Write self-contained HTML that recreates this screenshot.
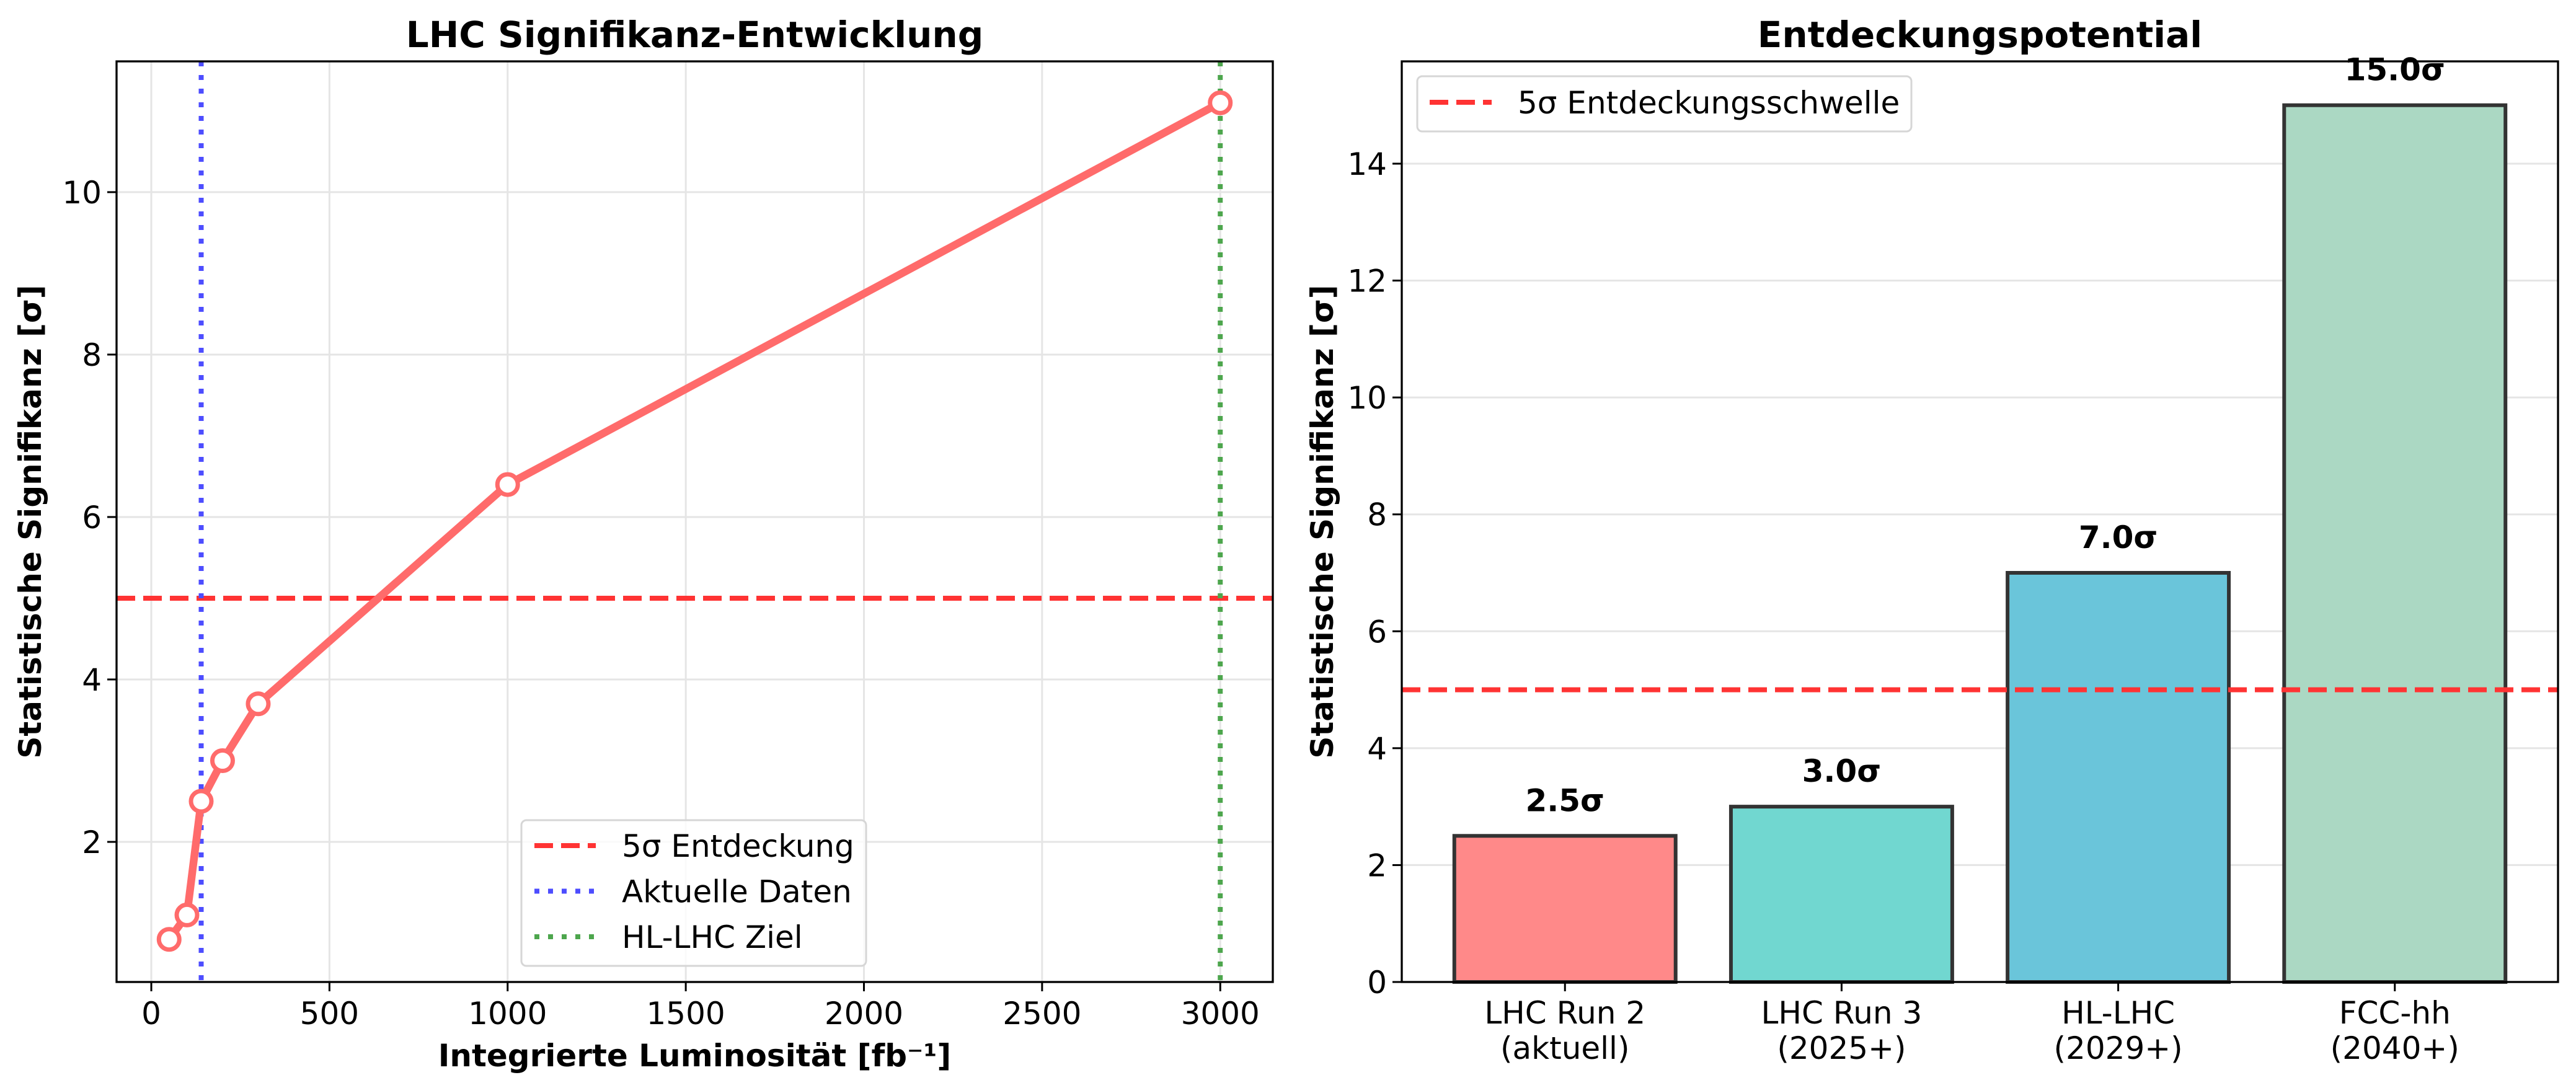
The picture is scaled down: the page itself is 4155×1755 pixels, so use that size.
<!DOCTYPE html>
<html><head><meta charset="utf-8"><style>
html,body{margin:0;padding:0;background:#fff;}
svg{display:block;font-family:"DejaVu Sans","Liberation Sans",sans-serif;}
</style></head><body>
<svg id="fig" xmlns="http://www.w3.org/2000/svg" width="4155" height="1755" viewBox="0 0 4155 1755">
<rect width="4155" height="1755" fill="#fff"/>
<g id="left"></g>
<g id="right"></g>
</svg>
<script>
const lumX = [50, 100, 140, 200, 300, 1000, 3000];
const sigY = [0.8, 1.1, 2.5, 3.0, 3.7, 6.4, 11.1];
const leftXTicks = [0, 500, 1000, 1500, 2000, 2500, 3000];
const leftYTicks = [2, 4, 6, 8, 10];
const discoveryLevel = [5];
const currentLumi = [140];
const hlTarget = [3000];
const barCats1 = ['LHC Run 2', 'LHC Run 3', 'HL-LHC', 'FCC-hh'];
const barCats2 = ['(aktuell)', '(2025+)', '(2029+)', '(2040+)'];
const barVals = [2.5, 3.0, 7.0, 15.0];
const barLabels = ['2.5σ', '3.0σ', '7.0σ', '15.0σ'];
const rightYTicks = [0, 2, 4, 6, 8, 10, 12, 14];

const NS = 'http://www.w3.org/2000/svg';
function mk(parent, tag, attrs, text) {
  const e = document.createElementNS(NS, tag);
  for (const k in attrs) e.setAttribute(k, attrs[k]);
  if (text !== undefined) e.textContent = text;
  parent.appendChild(e);
  return e;
}
const T = 99, B = 1584;
// LEFT
const L = document.getElementById('left');
const lx0 = 188, lx1 = 2053;
const lxmin = -97.5, lxmax = 3147.5, lymin = 0.275, lymax = 11.61;
const lxs = v => lx0 + (v - lxmin) / (lxmax - lxmin) * (lx1 - lx0);
const lys = v => B - (v - lymin) / (lymax - lymin) * (B - T);
leftXTicks.forEach(t => {
  const g = mk(L, 'line', {x1: lxs(t), x2: lxs(t), y1: T, y2: B, stroke: '#e5e5e5', 'stroke-width': 3});
  
  
  mk(L, 'line', {x1: lxs(t), x2: lxs(t), y1: B, y2: B + 15, stroke: '#000', 'stroke-width': 3});
  const tl = mk(L, 'text', {x: lxs(t), y: 1652, 'font-size': 50, 'text-anchor': 'middle'}, String(t));
  
  
});
leftYTicks.forEach(t => {
  const g = mk(L, 'line', {x1: lx0, x2: lx1, y1: lys(t), y2: lys(t), stroke: '#e5e5e5', 'stroke-width': 3});
  
  
  mk(L, 'line', {x1: lx0 - 15, x2: lx0, y1: lys(t), y2: lys(t), stroke: '#000', 'stroke-width': 3});
  const tl = mk(L, 'text', {x: lx0 - 24, y: lys(t) + 18, 'font-size': 50, 'text-anchor': 'end'}, String(t));
  
  
});
discoveryLevel.forEach(v => {
  const h = mk(L, 'line', {x1: lx0, x2: lx1, y1: lys(v), y2: lys(v), stroke: '#ff3333', 'stroke-width': 8, 'stroke-dasharray': '30 13'});
  
  
});
currentLumi.forEach(v => {
  const h = mk(L, 'line', {x1: lxs(v), x2: lxs(v), y1: T, y2: B, stroke: '#4d4dff', 'stroke-width': 8, 'stroke-dasharray': '8 14'});
  
  
});
hlTarget.forEach(v => {
  const h = mk(L, 'line', {x1: lxs(v), x2: lxs(v), y1: T, y2: B, stroke: '#4da64d', 'stroke-width': 8, 'stroke-dasharray': '8 14'});
  
  
});
const pts = lumX.map((x, i) => lxs(x) + ',' + lys(sigY[i])).join(' ');
const pl = mk(L, 'polyline', {points: pts, fill: 'none', stroke: '#ff6b6b', 'stroke-width': 12.5, 'stroke-linejoin': 'round'});


lumX.forEach((x, i) => {
  const c = mk(L, 'circle', {cx: lxs(x), cy: lys(sigY[i]), r: 16.5, fill: '#fff', stroke: '#ff6b6b', 'stroke-width': 7});
  
  
});
mk(L, 'rect', {x: lx0, y: T, width: lx1 - lx0, height: B - T, fill: 'none', stroke: '#000', 'stroke-width': 3.3});
let t = mk(L, 'text', {x: (lx0 + lx1) / 2, y: 76, 'font-size': 58, 'font-weight': 'bold', 'text-anchor': 'middle'}, 'LHC Signifikanz-Entwicklung');
 
t = mk(L, 'text', {x: (lx0 + lx1) / 2, y: 1720, 'font-size': 50, 'font-weight': 'bold', 'text-anchor': 'middle'}, 'Integrierte Luminosität [fb⁻¹]');
 
t = mk(L, 'text', {x: 0, y: 0, 'font-size': 50, 'font-weight': 'bold', 'text-anchor': 'middle', transform: 'translate(66,' + (T + B) / 2 + ') rotate(-90)'}, 'Statistische Signifikanz [σ]');
 
// left legend
const lg = mk(L, 'g', {});
 
mk(lg, 'rect', {x: 841, y: 1323, width: 556, height: 235, rx: 8, fill: '#fff', 'fill-opacity': 0.8, stroke: '#d6d6d6', 'stroke-width': 3});
const legItems = [['5σ Entdeckung', '#ff3333', '30 13'], ['Aktuelle Daten', '#4d4dff', '8 14'], ['HL-LHC Ziel', '#4da64d', '8 14']];
legItems.forEach((it, i) => {
  const y = 1364 + i * 73.5;
  mk(lg, 'line', {x1: 862, x2: 961, y1: y, y2: y, stroke: it[1], 'stroke-width': 8, 'stroke-dasharray': it[2]});
  const e = mk(lg, 'text', {x: 1003, y: y + 18, 'font-size': 50}, it[0]);
   
});
// RIGHT
const R = document.getElementById('right');
const rx0 = 2261, rx1 = 4126, rxmin = -0.59, rxmax = 3.59, rymax = 15.75;
const rxs = v => rx0 + (v - rxmin) / (rxmax - rxmin) * (rx1 - rx0);
const rys = v => B - v / rymax * (B - T);
const bw = 0.8 * (rx1 - rx0) / (rxmax - rxmin);
rightYTicks.forEach(tk => {
  const g = mk(R, 'line', {x1: rx0, x2: rx1, y1: rys(tk), y2: rys(tk), stroke: '#e5e5e5', 'stroke-width': 3});
   
  mk(R, 'line', {x1: rx0 - 15, x2: rx0, y1: rys(tk), y2: rys(tk), stroke: '#000', 'stroke-width': 3});
  const tl = mk(R, 'text', {x: rx0 - 24, y: rys(tk) + 18, 'font-size': 50, 'text-anchor': 'end'}, String(tk));
   
});
const fills = ['#ff8989', '#71d7d0', '#6ac5da', '#abd8c3'];
barVals.forEach((v, i) => {
  const cx = rxs(i);
  const r = mk(R, 'rect', {x: cx - bw / 2, y: rys(v), width: bw, height: B - rys(v), fill: fills[i], stroke: '#333', 'stroke-width': 6});
  
  
  const l = mk(R, 'text', {x: cx, y: rys(v) - 40, 'font-size': 50, 'font-weight': 'bold', 'text-anchor': 'middle'}, barLabels[i]);
   
  mk(R, 'line', {x1: cx, x2: cx, y1: B, y2: B + 15, stroke: '#000', 'stroke-width': 3});
  const c1 = mk(R, 'text', {x: cx, y: 1651, 'font-size': 50, 'text-anchor': 'middle'}, barCats1[i]);
   
  const c2 = mk(R, 'text', {x: cx, y: 1708, 'font-size': 50, 'text-anchor': 'middle'}, barCats2[i]);
   
});
discoveryLevel.forEach(v => {
  const h = mk(R, 'line', {x1: rx0, x2: rx1, y1: rys(v), y2: rys(v), stroke: '#ff3333', 'stroke-width': 8, 'stroke-dasharray': '30 13'});
   
});
mk(R, 'rect', {x: rx0, y: T, width: rx1 - rx0, height: B - T, fill: 'none', stroke: '#000', 'stroke-width': 3.3});
t = mk(R, 'text', {x: (rx0 + rx1) / 2, y: 76, 'font-size': 58, 'font-weight': 'bold', 'text-anchor': 'middle'}, 'Entdeckungspotential');
 
t = mk(R, 'text', {x: 0, y: 0, 'font-size': 50, 'font-weight': 'bold', 'text-anchor': 'middle', transform: 'translate(2150,' + (T + B) / 2 + ') rotate(-90)'}, 'Statistische Signifikanz [σ]');
 
const rg = mk(R, 'g', {});
 
mk(rg, 'rect', {x: 2286, y: 123, width: 797, height: 89, rx: 8, fill: '#fff', 'fill-opacity': 0.8, stroke: '#d6d6d6', 'stroke-width': 3});
mk(rg, 'line', {x1: 2306, x2: 2406, y1: 165, y2: 165, stroke: '#ff3333', 'stroke-width': 8, 'stroke-dasharray': '30 13'});
t = mk(rg, 'text', {x: 2448, y: 183, 'font-size': 50}, '5σ Entdeckungsschwelle');
 
</script>
</body></html>
